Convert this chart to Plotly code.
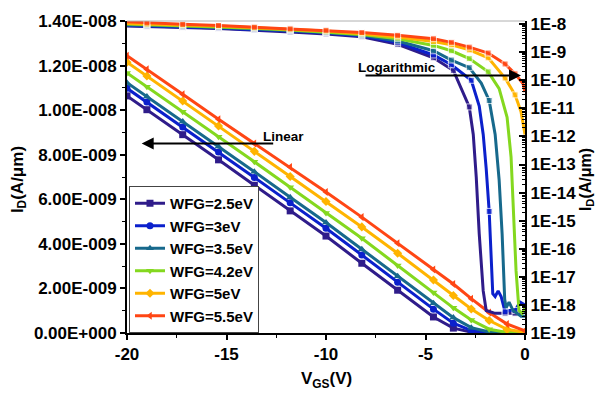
import plotly.graph_objects as go

# ---------------- data ----------------
labels = ["WFG=2.5eV", "WFG=3eV", "WFG=3.5eV", "WFG=4.2eV", "WFG=5eV", "WFG=5.5eV"]
colors = ["#2F1C8A", "#0B20CC", "#17698C", "#84D81F", "#FFB400", "#FF4614"]
symbols = ["square", "circle", "triangle-up", "triangle-down", "diamond", "triangle-left"]

# Linear-scale drain current (units of 1e-9 A/um)
vgs_lin = [-20, -19, -17.2, -15.4, -13.6, -11.8, -10, -8.2, -6.4, -4.6, -3.6, -2.7, -1.8, -0.9, 0]
lin_25 = [10.64, 10.02, 8.90, 7.77, 6.63, 5.48, 4.35, 3.13, 1.92, 0.72, 0.22, 0.04, 0.005, 0.0, 0.0]
lin_30 = [10.98, 10.36, 9.24, 8.12, 6.98, 5.84, 4.70, 3.50, 2.28, 1.07, 0.44, 0.11, 0.015, 0.0, 0.0]
lin_35 = [11.23, 10.61, 9.49, 8.37, 7.24, 6.09, 4.96, 3.76, 2.55, 1.34, 0.69, 0.24, 0.045, 0.005, 0.0]
lin_42 = [11.67, 11.05, 9.93, 8.81, 7.68, 6.54, 5.39, 4.25, 3.03, 1.82, 1.13, 0.58, 0.17, 0.025, 0.003]
lin_50 = [12.15, 11.53, 10.41, 9.29, 8.15, 7.02, 5.90, 4.76, 3.58, 2.38, 1.68, 1.08, 0.56, 0.16, 0.03]
lin_55 = [12.44, 11.83, 10.71, 9.59, 8.50, 7.45, 6.33, 5.20, 4.03, 2.85, 2.20, 1.54, 0.92, 0.40, 0.10]
lin_all = [lin_25, lin_30, lin_35, lin_42, lin_50, lin_55]
LIN_SCALE = 1e-9

# Log-scale drain current (log10 of A/um)
vgs_log_25 = [-20, -19, -17.2, -15.4, -13.6, -11.8, -10, -8.2, -6.4, -4.6, -3.6, -2.8, -2.6, -2.45, -2.3, -2.1, -1.95, -1.5, -1.0, -0.5, 0]
log_25 = [-8.07, -8.08, -8.12, -8.16, -8.21, -8.28, -8.35, -8.45, -8.72, -9.2, -9.65, -10.95, -11.93, -13.45, -15.47, -17.5, -18.2, -18.3, -18.3, -18.3, -18.27]

vgs_log_30 = [-20, -19, -17.2, -15.4, -13.6, -11.8, -10, -8.2, -6.4, -4.6, -3.7, -2.7, -2.3, -2.1, -1.95, -1.8, -1.62, -1.5, -1.35, -1.2, -1.0, -0.8, -0.5, -0.25, 0]
log_30 = [-8.05, -8.06, -8.1, -8.14, -8.19, -8.25, -8.32, -8.42, -8.66, -9.1, -9.45, -10.0, -10.92, -11.93, -13.15, -14.67, -17.6, -17.7, -17.5, -17.7, -18.25, -18.2, -18.2, -17.9, -18.0]

vgs_log_35 = [-20, -19, -17.2, -15.4, -13.6, -11.8, -10, -8.2, -6.4, -4.6, -3.7, -2.8, -2.2, -1.8, -1.5, -1.3, -1.15, -1.02, -0.95, -0.8, -0.6, -0.4, -0.2, 0]
log_35 = [-8.03, -8.04, -8.08, -8.12, -8.17, -8.23, -8.30, -8.40, -8.60, -8.95, -9.28, -9.55, -10.1, -10.72, -11.93, -13.55, -15.47, -17.8, -18.1, -17.9, -18.2, -18.3, -18.4, -18.4]

vgs_log_42 = [-20, -19, -17.2, -15.4, -13.6, -11.8, -10, -8.2, -6.4, -4.6, -3.7, -2.8, -1.85, -1.3, -0.9, -0.7, -0.6, -0.45, -0.3, -0.15, 0]
log_42 = [-8.0, -8.02, -8.06, -8.1, -8.15, -8.21, -8.28, -8.37, -8.52, -8.76, -8.95, -9.23, -9.7, -10.3, -11.32, -12.74, -14.35, -16.78, -18.2, -18.3, -18.1]

vgs_log_50 = [-20, -19, -17.2, -15.4, -13.6, -11.8, -10, -8.2, -6.4, -4.6, -3.7, -2.8, -1.85, -1.0, -0.5, -0.2, 0]
log_50 = [-7.98, -8.0, -8.03, -8.07, -8.13, -8.19, -8.25, -8.34, -8.46, -8.62, -8.74, -8.92, -9.2, -9.92, -10.52, -11.12, -11.93]

vgs_log_55 = [-20, -19, -17.2, -15.4, -13.6, -11.8, -10, -8.2, -6.4, -4.6, -3.7, -2.8, -1.85, -1.0, -0.5, -0.1, 0]
log_55 = [-7.92, -7.96, -8.01, -8.05, -8.11, -8.17, -8.22, -8.30, -8.40, -8.52, -8.65, -8.82, -9.03, -9.42, -9.77, -10.12, -10.42]

vgs_log_all = [vgs_log_25, vgs_log_30, vgs_log_35, vgs_log_42, vgs_log_50, vgs_log_55]
log_all = [log_25, log_30, log_35, log_42, log_50, log_55]

left_tickvals = [0, 2e-9, 4e-9, 6e-9, 8e-9, 1e-8, 1.2e-8, 1.4e-8]
left_ticktext = ["0.00E+000", "2.00E-009", "4.00E-009", "6.00E-009", "8.00E-009",
                 "1.00E-008", "1.20E-008", "1.40E-008"]
right_exps = list(range(-8, -20, -1))
right_ticktext = ["1E%d" % e for e in right_exps]
x_tickvals = [-20, -15, -10, -5, 0]
x_ticktext = ["-20", "-15", "-10", "-5", "0"]

# ---------------- figure ----------------
FONT = "Liberation Sans, Arial, sans-serif"
fig = go.Figure()

LOG_MARK_X = {-19, -17.2, -15.4, -13.6, -11.8, -10, -8.2, -6.4, -4.6, -3.7, -3.6,
              -2.8, -2.7, -1.85, -1.8, -1.0, -0.5}

for i in range(6):
    xs = vgs_log_all[i]
    sizes = [6 if x in LOG_MARK_X else 0 for x in xs]
    fig.add_trace(go.Scatter(
        x=xs, y=[10 ** v for v in log_all[i]], yaxis="y2",
        mode="lines+markers", showlegend=False,
        line=dict(color=colors[i], width=3),
        marker=dict(symbol="square", size=sizes, color=colors[i]),
    ))

for i in range(6):
    fig.add_trace(go.Scatter(
        x=vgs_lin, y=[v * LIN_SCALE for v in lin_all[i]],
        mode="lines+markers", name=labels[i],
        line=dict(color=colors[i], width=3),
        marker=dict(symbol=symbols[i], size=7, color=colors[i]),
    ))

tickfont = dict(family=FONT, size=17, color="black", weight="bold")

fig.update_layout(
    width=597, height=394, autosize=False,
    margin=dict(l=127, r=72, t=15, b=61),
    paper_bgcolor="white", plot_bgcolor="white",
    font=dict(family=FONT, color="black"),
    xaxis=dict(
        range=[-20, 0], tickvals=x_tickvals, ticktext=x_ticktext,
        ticks="outside", ticklen=5, tickwidth=1.5, tickcolor="black",
        showline=True, linecolor="black", linewidth=2,
        showgrid=False, zeroline=False, tickfont=tickfont,
        minor=dict(tickvals=[-17.5, -12.5, -7.5, -2.5], ticks="outside",
                   ticklen=3, tickwidth=1, tickcolor="black"),
    ),
    yaxis=dict(
        range=[0, 1.4e-8], tickvals=left_tickvals, ticktext=left_ticktext,
        ticks="outside", ticklen=5, tickwidth=1.5, tickcolor="black",
        showline=True, linecolor="black", linewidth=2,
        showgrid=False, zeroline=False, tickfont=tickfont,
        minor=dict(tickvals=[1e-9, 3e-9, 5e-9, 7e-9, 9e-9, 1.1e-8, 1.3e-8],
                   ticks="outside", ticklen=3, tickwidth=1, tickcolor="black"),
    ),
    yaxis2=dict(
        type="log", overlaying="y", side="right", anchor="x",
        range=[-19, -7.89],
        tickvals=[10 ** e for e in right_exps], ticktext=right_ticktext,
        ticks="inside", ticklen=6, tickwidth=1.5, tickcolor="black",
        showline=True, linecolor="black", linewidth=2,
        showgrid=False, zeroline=False, tickfont=tickfont,
        minor=dict(tickvals=[k * 10.0 ** e for e in range(-19, -8) for k in range(2, 10)],
                   ticks="inside", ticklen=3, tickwidth=1, tickcolor="black"),
    ),
    legend=dict(
        x=0.005, y=0.0, xanchor="left", yanchor="bottom",
        bgcolor="white", bordercolor="#444", borderwidth=1,
        font=dict(family=FONT, size=15, color="black", weight="bold"),
        tracegroupgap=0, itemwidth=30,
    ),
    shapes=[dict(type="line", xref="paper", yref="paper", x0=0, x1=1, y0=1, y1=1,
                 line=dict(color="#b0b0b0", width=1))],
)

ann_font = dict(family=FONT, size=13.5, color="black", weight="bold")
fig.add_annotation(xref="paper", yref="paper", x=0.0369, y=0.607, ax=133, ay=0,
                   text="", showarrow=True, arrowhead=2, arrowsize=1.2, arrowwidth=2,
                   arrowcolor="black", standoff=0, startstandoff=0)
fig.add_annotation(xref="paper", yref="paper", x=0.394, y=0.63, text="Linear",
                   xanchor="center", yanchor="middle", showarrow=False, font=ann_font)
fig.add_annotation(xref="paper", yref="paper", x=0.990, y=0.825, ax=-157, ay=0,
                   text="", showarrow=True, arrowhead=2, arrowsize=1.2, arrowwidth=2,
                   arrowcolor="black", standoff=0, startstandoff=0)
fig.add_annotation(xref="paper", yref="paper", x=0.678, y=0.85, text="Logarithmic",
                   xanchor="center", yanchor="middle", showarrow=False, font=ann_font)

title_font = dict(family=FONT, size=17, color="black", weight="bold")
fig.add_annotation(xref="paper", yref="paper", x=(19 - 127) / 398, y=0.49,
                   xanchor="center", yanchor="middle",
                   text="I<sub>D</sub>(A/μm)", textangle=-90, showarrow=False, font=title_font)
fig.add_annotation(xref="paper", yref="paper", x=(586 - 127) / 398, y=0.49,
                   xanchor="center", yanchor="middle",
                   text="I<sub>D</sub>(A/μm)", textangle=-90, showarrow=False,
                   font=dict(family=FONT, size=16, color="black", weight="bold"))
fig.add_annotation(xref="paper", yref="paper", x=0.50, y=(333 - 381) / 318,
                   xanchor="center", yanchor="middle",
                   text="V<sub>GS</sub>(V)", showarrow=False, font=title_font)

fig.write_html("out.html")
